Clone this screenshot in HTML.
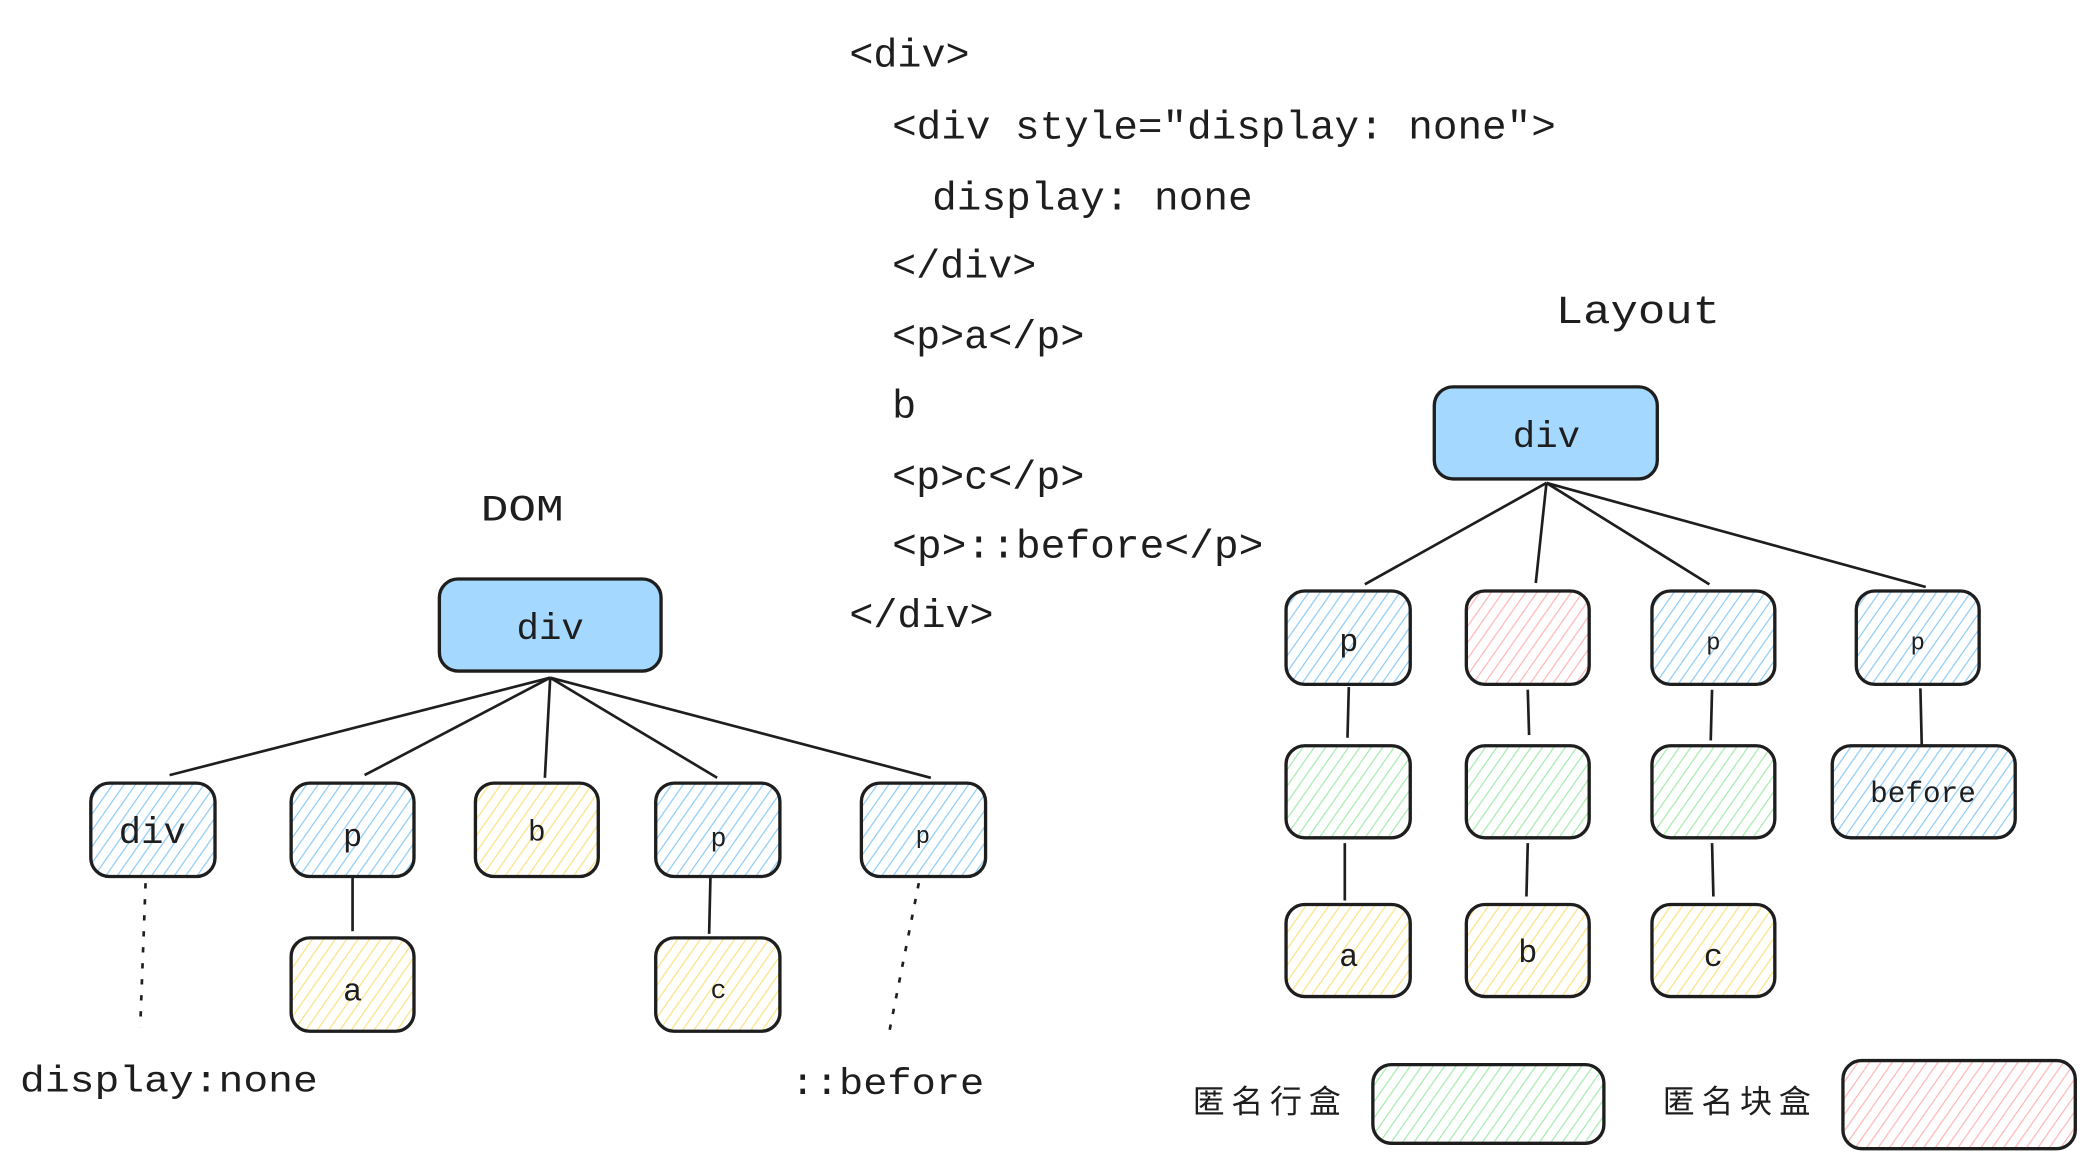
<!DOCTYPE html>
<html><head><meta charset="utf-8"><style>
html,body{margin:0;padding:0;background:#fff;width:2094px;height:1170px;overflow:hidden}
svg{display:block}
text{font-family:"Liberation Mono","Noto Sans CJK SC",monospace;fill:#1e1e1e}
</style></head><body>
<svg width="2094" height="1170" viewBox="0 0 1568 877" preserveAspectRatio="none" xmlns="http://www.w3.org/2000/svg">
<defs>
<pattern id="hb" width="7" height="7" patternUnits="userSpaceOnUse" patternTransform="rotate(35)"><line x1="0" y1="0" x2="0" y2="7" stroke="#8ccbf7" stroke-width="1.8"/></pattern>
<pattern id="hg" width="7" height="7" patternUnits="userSpaceOnUse" patternTransform="rotate(35)"><line x1="0" y1="0" x2="0" y2="7" stroke="#a3ebad" stroke-width="1.8"/></pattern>
<pattern id="hr" width="7" height="7" patternUnits="userSpaceOnUse" patternTransform="rotate(35)"><line x1="0" y1="0" x2="0" y2="7" stroke="#ffb5b5" stroke-width="1.8"/></pattern>
<pattern id="hy" width="7" height="7" patternUnits="userSpaceOnUse" patternTransform="rotate(35)"><line x1="0" y1="0" x2="0" y2="7" stroke="#fbe27f" stroke-width="1.8"/></pattern>
</defs>
<g stroke="#1e1e1e" stroke-width="2" fill="none">
<line x1="412" y1="508" x2="127" y2="581"/><line x1="412" y1="508" x2="273" y2="581"/>
<line x1="412" y1="508" x2="408" y2="583"/><line x1="412" y1="508" x2="537" y2="583"/>
<line x1="412" y1="508" x2="697" y2="583"/>
<line x1="264" y1="657" x2="264" y2="698"/><line x1="532" y1="657" x2="531" y2="700"/>
<line x1="109" y1="662" x2="105" y2="770" stroke-dasharray="4 8"/>
<line x1="688" y1="662" x2="665" y2="778" stroke-dasharray="4 8"/>
<line x1="1158" y1="362" x2="1022" y2="438"/><line x1="1158" y1="362" x2="1150" y2="437"/>
<line x1="1158" y1="362" x2="1280" y2="438"/><line x1="1158" y1="362" x2="1442" y2="440"/>
<line x1="1010" y1="515" x2="1009" y2="553"/><line x1="1144" y1="517" x2="1145" y2="551"/>
<line x1="1282" y1="517" x2="1281" y2="555"/><line x1="1438" y1="516" x2="1439" y2="558"/>
<line x1="1007" y1="632" x2="1007" y2="675"/><line x1="1144" y1="632" x2="1143" y2="672"/>
<line x1="1282" y1="632" x2="1283" y2="672"/>
</g>
<g stroke="#1e1e1e" stroke-width="2.5">
<rect x="329" y="434" width="166" height="69" rx="14" fill="#a5d8ff"/>
<rect x="68" y="587" width="93" height="70" rx="14" fill="url(#hb)"/>
<rect x="218" y="587" width="92" height="70" rx="14" fill="url(#hb)"/>
<rect x="356" y="587" width="92" height="70" rx="14" fill="url(#hy)"/>
<rect x="491" y="587" width="93" height="70" rx="14" fill="url(#hb)"/>
<rect x="645" y="587" width="93" height="70" rx="14" fill="url(#hb)"/>
<rect x="218" y="703" width="92" height="70" rx="14" fill="url(#hy)"/>
<rect x="491" y="703" width="93" height="70" rx="14" fill="url(#hy)"/>
<rect x="1074" y="290" width="167" height="69" rx="14" fill="#a5d8ff"/>
<rect x="963" y="443" width="93" height="70" rx="14" fill="url(#hb)"/>
<rect x="1098" y="443" width="92" height="70" rx="14" fill="url(#hr)"/>
<rect x="1237" y="443" width="92" height="70" rx="14" fill="url(#hb)"/>
<rect x="1390" y="443" width="92" height="70" rx="14" fill="url(#hb)"/>
<rect x="963" y="559" width="93" height="69" rx="14" fill="url(#hg)"/>
<rect x="1098" y="559" width="92" height="69" rx="14" fill="url(#hg)"/>
<rect x="1237" y="559" width="92" height="69" rx="14" fill="url(#hg)"/>
<rect x="1372" y="559" width="137" height="69" rx="14" fill="url(#hb)"/>
<rect x="963" y="678" width="93" height="69" rx="14" fill="url(#hy)"/>
<rect x="1098" y="678" width="92" height="69" rx="14" fill="url(#hy)"/>
<rect x="1237" y="678" width="92" height="69" rx="14" fill="url(#hy)"/>
<rect x="1028" y="798" width="173" height="59" rx="14" fill="url(#hg)"/>
<rect x="1380" y="795" width="174" height="66" rx="14" fill="url(#hr)"/>
</g>
<g font-size="30">
<text x="636" y="50">&lt;div&gt;</text>
<text x="668" y="104" textLength="497" lengthAdjust="spacingAndGlyphs">&lt;div style="display: none"&gt;</text>
<text x="698" y="157" textLength="240" lengthAdjust="spacingAndGlyphs">display: none</text>
<text x="668" y="208">&lt;/div&gt;</text>
<text x="668" y="261">&lt;p&gt;a&lt;/p&gt;</text>
<text x="668" y="313">b</text>
<text x="668" y="366">&lt;p&gt;c&lt;/p&gt;</text>
<text x="668" y="418" textLength="278" lengthAdjust="spacingAndGlyphs">&lt;p&gt;::before&lt;/p&gt;</text>
<text x="636" y="470">&lt;/div&gt;</text>
<text x="1165" y="242" textLength="123" lengthAdjust="spacingAndGlyphs">Layout</text>
<text x="360" y="390" font-size="28" textLength="62" lengthAdjust="spacingAndGlyphs">DOM</text>
<text x="15" y="818" font-size="28" textLength="223" lengthAdjust="spacingAndGlyphs">display:none</text>
<text x="592" y="820" font-size="28" textLength="145" lengthAdjust="spacingAndGlyphs">::before</text>
</g>
<g font-size="28" text-anchor="middle">
<text x="412" y="479">div</text>
<text x="114" y="632">div</text>
<text x="264" y="634" font-size="24">p</text>
<text x="402" y="630" font-size="22">b</text>
<text x="538" y="634" font-size="20">p</text>
<text x="691" y="632" font-size="18">p</text>
<text x="264" y="750" font-size="24">a</text>
<text x="538" y="748" font-size="20">c</text>
<text x="1158" y="335">div</text>
<text x="1010" y="488" font-size="24">p</text>
<text x="1283" y="487" font-size="18">p</text>
<text x="1436" y="487" font-size="18">p</text>
<text x="1440" y="601" font-size="22">before</text>
<text x="1010" y="724" font-size="24">a</text>
<text x="1144" y="721" font-size="24">b</text>
<text x="1283" y="724" font-size="24">c</text>
</g>
<text x="893" y="834" font-size="24" style="letter-spacing:5px">匿名行盒</text>
<text x="1245" y="834" font-size="24" style="letter-spacing:5px">匿名块盒</text>
</svg>
</body></html>
